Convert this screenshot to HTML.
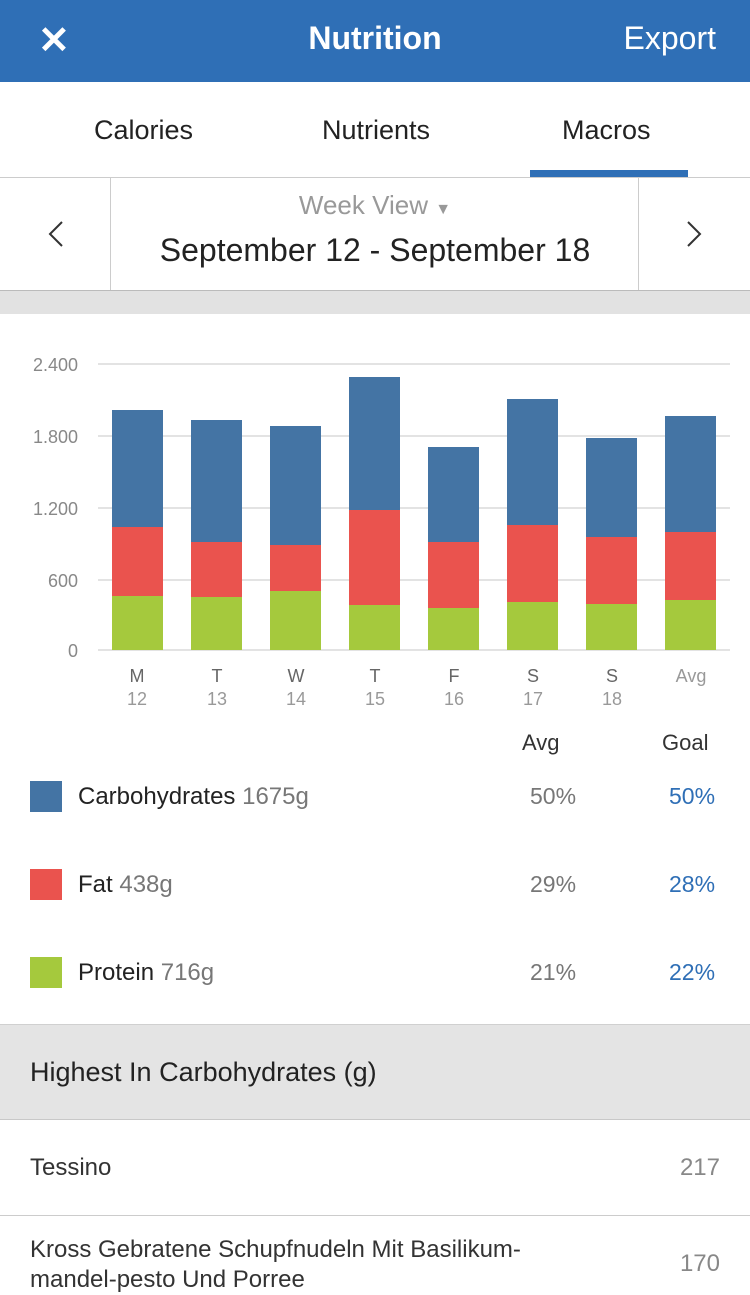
<!DOCTYPE html>
<html><head><meta charset="utf-8"><style>
*{margin:0;padding:0;box-sizing:border-box}
body{width:750px;height:1288px;overflow:hidden;background:#fff;font-family:"Liberation Sans",Arial,sans-serif;position:relative;color:#222}
.a{position:absolute}
</style></head><body>
<div class="a" style="left:0;top:0;width:750px;height:82px;background:#2f6fb6"></div>
<div class="a" style="left:38px;top:18px;color:#fff;font-size:38px;font-weight:bold">✕</div>
<div class="a" style="left:0;width:750px;top:20px;text-align:center;color:#fff;font-size:32px;font-weight:bold">Nutrition</div>
<div class="a" style="right:34px;top:20px;color:#fff;font-size:32px">Export</div>
<div class="a" style="left:94px;top:115px;font-size:27px">Calories</div>
<div class="a" style="left:322px;top:115px;font-size:27px">Nutrients</div>
<div class="a" style="left:562px;top:115px;font-size:27px">Macros</div>
<div class="a" style="left:530px;top:170px;width:158px;height:7px;background:#2f6fb6"></div>
<div class="a" style="left:0;top:177px;width:750px;height:1px;background:#ccc"></div>
<div class="a" style="left:110px;top:178px;width:1px;height:112px;background:#ccc"></div>
<div class="a" style="left:638px;top:178px;width:1px;height:112px;background:#ccc"></div>
<svg class="a" style="left:0;top:178px" width="750" height="112"><g stroke="#333" stroke-width="2" fill="none"><polyline points="62,44 50,56 62,68"/><polyline points="688,44 700,56 688,68"/></g></svg>
<div class="a" style="left:0;width:750px;top:190px;text-align:center;font-size:26px;color:#999">Week View <span style="font-size:16px">▼</span></div>
<div class="a" style="left:0;width:750px;top:232px;text-align:center;font-size:32px;color:#222">September 12 - September 18</div>
<div class="a" style="left:0;top:290px;width:750px;height:24px;background:#e2e2e2;border-top:1px solid #bbb"></div>
<svg class="a" style="left:0;top:340px" width="750" height="380">
<g stroke="#e3e3e3" stroke-width="2">
<line x1="98" x2="730" y1="24" y2="24"/><line x1="98" x2="730" y1="96" y2="96"/><line x1="98" x2="730" y1="168" y2="168"/><line x1="98" x2="730" y1="240" y2="240"/><line x1="98" x2="730" y1="310" y2="310"/></g>
<g font-family="Liberation Sans" font-size="18" fill="#888" text-anchor="end">
<text x="78" y="31">2.400</text><text x="78" y="103">1.800</text><text x="78" y="175">1.200</text><text x="78" y="247">600</text><text x="78" y="317">0</text></g>
<g font-family="Liberation Sans" font-size="18" fill="#666" text-anchor="middle">
<text x="137" y="342">M</text><text x="137" y="365" fill="#999">12</text>
<text x="217" y="342">T</text><text x="217" y="365" fill="#999">13</text>
<text x="296" y="342">W</text><text x="296" y="365" fill="#999">14</text>
<text x="375" y="342">T</text><text x="375" y="365" fill="#999">15</text>
<text x="454" y="342">F</text><text x="454" y="365" fill="#999">16</text>
<text x="533" y="342">S</text><text x="533" y="365" fill="#999">17</text>
<text x="612" y="342">S</text><text x="612" y="365" fill="#999">18</text>
<text x="691" y="342" fill="#999">Avg</text></g>
<g>
<rect x="112" y="70" width="51" height="117" fill="#4474a4"/><rect x="112" y="187" width="51" height="69" fill="#ea534e"/><rect x="112" y="256" width="51" height="54" fill="#a5c93d"/>
<rect x="191" y="80" width="51" height="122" fill="#4474a4"/><rect x="191" y="202" width="51" height="55" fill="#ea534e"/><rect x="191" y="257" width="51" height="53" fill="#a5c93d"/>
<rect x="270" y="86" width="51" height="119" fill="#4474a4"/><rect x="270" y="205" width="51" height="46" fill="#ea534e"/><rect x="270" y="251" width="51" height="59" fill="#a5c93d"/>
<rect x="349" y="37" width="51" height="133" fill="#4474a4"/><rect x="349" y="170" width="51" height="95" fill="#ea534e"/><rect x="349" y="265" width="51" height="45" fill="#a5c93d"/>
<rect x="428" y="107" width="51" height="95" fill="#4474a4"/><rect x="428" y="202" width="51" height="66" fill="#ea534e"/><rect x="428" y="268" width="51" height="42" fill="#a5c93d"/>
<rect x="507" y="59" width="51" height="126" fill="#4474a4"/><rect x="507" y="185" width="51" height="77" fill="#ea534e"/><rect x="507" y="262" width="51" height="48" fill="#a5c93d"/>
<rect x="586" y="98" width="51" height="99" fill="#4474a4"/><rect x="586" y="197" width="51" height="67" fill="#ea534e"/><rect x="586" y="264" width="51" height="46" fill="#a5c93d"/>
<rect x="665" y="76" width="51" height="116" fill="#4474a4"/><rect x="665" y="192" width="51" height="68" fill="#ea534e"/><rect x="665" y="260" width="51" height="50" fill="#a5c93d"/>
</g></svg>
<div class="a" style="left:522px;top:730px;font-size:22px;color:#333">Avg</div>
<div class="a" style="left:662px;top:730px;font-size:22px;color:#333">Goal</div>
<div class="a" style="left:30px;top:781px;width:32px;height:31px;background:#4474a4"></div>
<div class="a" style="left:78px;top:783px;font-size:24px">Carbohydrates <span style="color:#777">1675g</span></div>
<div class="a" style="left:530px;top:783px;font-size:23px;color:#777">50%</div>
<div class="a" style="left:669px;top:783px;font-size:23px;color:#2f6fb6">50%</div>
<div class="a" style="left:30px;top:869px;width:32px;height:31px;background:#ea534e"></div>
<div class="a" style="left:78px;top:871px;font-size:24px">Fat <span style="color:#777">438g</span></div>
<div class="a" style="left:530px;top:871px;font-size:23px;color:#777">29%</div>
<div class="a" style="left:669px;top:871px;font-size:23px;color:#2f6fb6">28%</div>
<div class="a" style="left:30px;top:957px;width:32px;height:31px;background:#a5c93d"></div>
<div class="a" style="left:78px;top:959px;font-size:24px">Protein <span style="color:#777">716g</span></div>
<div class="a" style="left:530px;top:959px;font-size:23px;color:#777">21%</div>
<div class="a" style="left:669px;top:959px;font-size:23px;color:#2f6fb6">22%</div>
<div class="a" style="left:0;top:1024px;width:750px;height:96px;background:#e4e4e4;border-top:1px solid #d0d0d0;border-bottom:1px solid #c8c8c8"></div>
<div class="a" style="left:30px;top:1057px;font-size:27px;color:#222">Highest In Carbohydrates (g)</div>
<div class="a" style="left:30px;top:1154px;font-size:24px;color:#333">Tessino</div>
<div class="a" style="right:30px;top:1154px;font-size:24px;color:#888">217</div>
<div class="a" style="left:0;top:1215px;width:750px;height:1px;background:#ccc"></div>
<div class="a" style="left:30px;top:1235px;font-size:24px;color:#333;line-height:30px;width:545px">Kross Gebratene Schupfnudeln Mit Basilikum-mandel-pesto Und Porree</div>
<div class="a" style="right:30px;top:1250px;font-size:24px;color:#888">170</div>
</body></html>
